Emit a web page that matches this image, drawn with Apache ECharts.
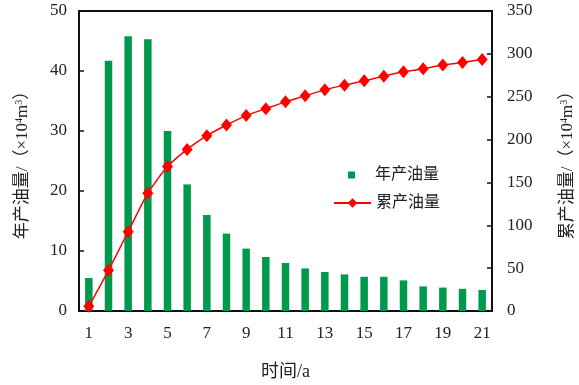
<!DOCTYPE html>
<html>
<head>
<meta charset="utf-8">
<script src="https://cdn.jsdelivr.net/npm/echarts@6/dist/echarts.min.js"></script>
<style>
  html, body { margin: 0; padding: 0; background: #fff; }
  #chart { width: 579px; height: 385px; }
</style>
</head>
<body>
<div id="chart"></div>
<script>
// 年份
var years = ['1', '2', '3', '4', '5', '6', '7', '8', '9', '10', '11', '12', '13', '14', '15', '16', '17', '18', '19', '20', '21']
// 年产油量 (×10^4 m3)
var annualOil = [5.5, 41.7, 45.8, 45.3, 30.0, 21.1, 16.0, 12.9, 10.4, 9.0, 8.0, 7.1, 6.5, 6.1, 5.7, 5.7, 5.1, 4.1, 3.9, 3.7, 3.5]
// 累产油量 (×10^4 m3)
var cumOil = [5.5, 47.5, 92.5, 137.5, 168.5, 188.5, 204.5, 217, 228, 236, 244, 251, 258, 263.5, 268.5, 274, 279, 282.5, 287, 290, 293.5]

var FONT = '"Liberation Serif", "Noto Sans CJK SC", serif'
var nameRich = {
  sup: { fontSize: 10, fontFamily: FONT, color: '#222', verticalAlign: 'top', padding: [0, 0, 6, 0] }
}

var chart = echarts.init(document.getElementById('chart'))
var option = {
  backgroundColor: '#fff',
  animation: false,
  textStyle: { fontFamily: FONT, color: '#222' },
  grid: {
    left: 79, right: 87, top: 11, bottom: 74,
    outerBoundsMode: 'none',
    show: true, borderColor: '#111', borderWidth: 2, backgroundColor: 'transparent'
  },
  legend: [
    {
      data: [{ name: '年产油量', icon: 'path://M0,0h10v10h-10z' }],
      orient: 'vertical',
      left: 343, top: 162,
      itemWidth: 37, itemHeight: 7,
      textStyle: { fontFamily: FONT, fontSize: 16, color: '#222' }
    },
    {
      data: ['累产油量'],
      orient: 'vertical',
      left: 328, top: 190,
      itemWidth: 37, itemHeight: 12,
      textStyle: { fontFamily: FONT, fontSize: 16, color: '#222' }
    }
  ],
  xAxis: {
    type: 'category',
    data: years,
    boundaryGap: true,
    name: '时间/a',
    nameLocation: 'middle',
    nameGap: 52,
    nameTextStyle: { fontFamily: FONT, fontSize: 18, color: '#222' },
    axisLine: { lineStyle: { color: '#111', width: 2 } },
    axisTick: { show: false },
    axisLabel: { interval: 1, fontSize: 17, color: '#222', margin: 14, fontFamily: FONT }
  },
  yAxis: [
    {
      type: 'value',
      min: 0, max: 50, interval: 10,
      name: '年产油量/（×10{sup|4}m{sup|3}）',
      nameLocation: 'middle',
      nameGap: 48,
      nameRotate: 90,
      nameTextStyle: { fontFamily: FONT, fontSize: 17, color: '#222', rich: nameRich },
      axisLine: { show: true, lineStyle: { color: '#111', width: 2 } },
      axisTick: { show: true, inside: true, length: 5, lineStyle: { color: '#111', width: 1.5 } },
      axisLabel: { fontSize: 17, color: '#222', margin: 12, fontFamily: FONT },
      splitLine: { show: false }
    },
    {
      type: 'value',
      min: 0, max: 350, interval: 50,
      position: 'right',
      name: '累产油量/（×10{sup|4}m{sup|3}）',
      nameLocation: 'middle',
      nameGap: 67,
      nameRotate: 90,
      nameTextStyle: { fontFamily: FONT, fontSize: 17, color: '#222', rich: nameRich },
      axisLine: { show: true, lineStyle: { color: '#111', width: 2 } },
      axisTick: { show: true, inside: true, length: 5, lineStyle: { color: '#111', width: 1.5 } },
      axisLabel: { fontSize: 17, color: '#222', margin: 15, fontFamily: FONT },
      splitLine: { show: false }
    }
  ],
  series: [
    {
      name: '年产油量',
      type: 'bar',
      yAxisIndex: 0,
      barWidth: 7.5,
      itemStyle: { color: '#00994e' },
      data: annualOil
    },
    {
      name: '累产油量',
      type: 'line',
      yAxisIndex: 1,
      smooth: 0.2,
      symbol: 'diamond',
      symbolSize: [11, 13],
      showAllSymbol: true,
      lineStyle: { color: '#ff0000', width: 1.5 },
      itemStyle: { color: '#ff0000' },
      data: cumOil
    }
  ]
}
chart.setOption(option)
</script>
</body>
</html>
